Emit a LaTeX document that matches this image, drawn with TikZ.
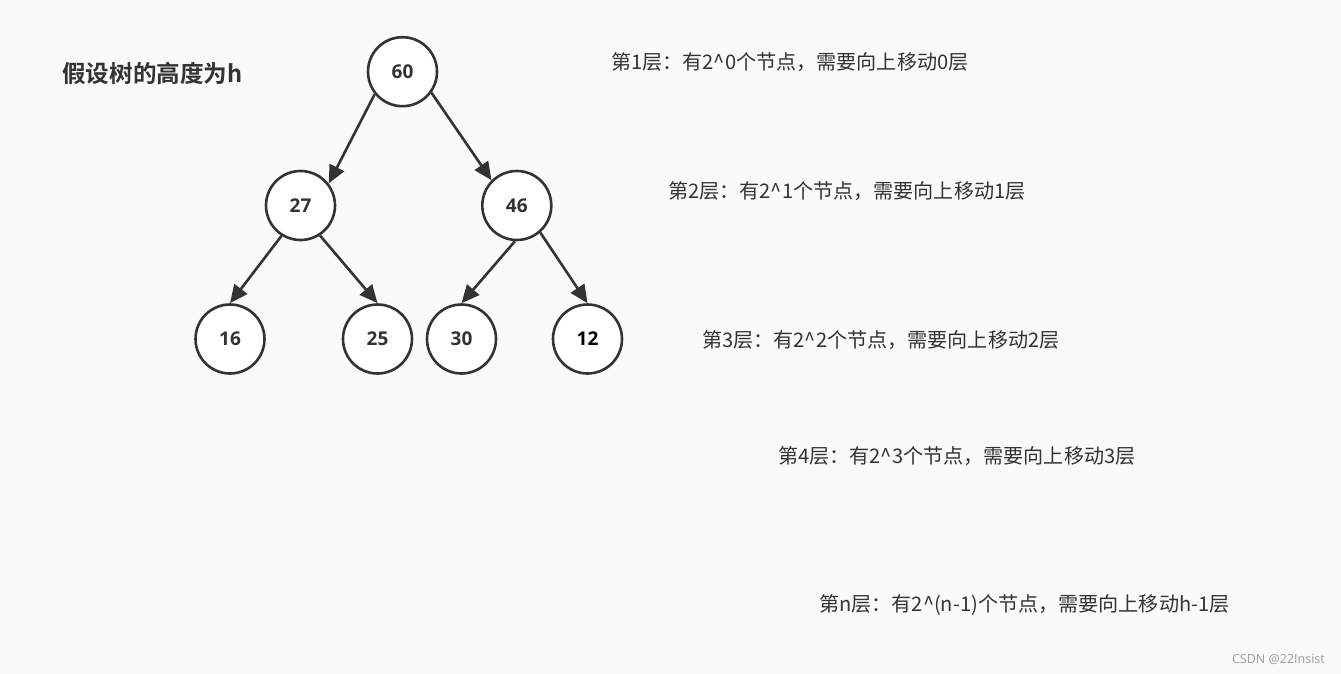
\documentclass[tikz,border=0pt]{standalone}
\usepackage{fontspec}
\setmainfont{Noto Sans CJK SC}[BoldFont={Noto Sans CJK SC Bold}]
\newfontfamily\numfont{Open Sans}[BoldFont={Open Sans Bold}]
\usetikzlibrary{arrows.meta}
\definecolor{bgc}{HTML}{FAFAFA}
\definecolor{ink}{HTML}{333333}
\begin{document}
\begin{tikzpicture}[x=1pt,y=-1pt,
  tnode/.style={circle,draw=ink,line width=2.6pt,fill=white,minimum size=69pt,inner sep=0pt,
    font=\numfont\bfseries\fontsize{19}{22}\selectfont,text=ink},
  edge/.style={draw=ink,line width=2.6pt,-{Triangle[length=18pt,width=16pt]}},
  levtext/.style={anchor=west,inner sep=0pt,text=ink,font=\fontsize{20.1}{24}\selectfont},
]
\fill[bgc] (0,0) rectangle (1341,674);
\useasboundingbox (0,0) rectangle (1341,674);

\node[anchor=west,inner sep=0pt,text=ink,font=\bfseries\fontsize{23.6}{28}\selectfont] (title) at (62,73) {假设树的高度为h};

\node[tnode] (n60) at (402.5,71.7) {60};
\node[tnode] (n27) at (300.5,205.5) {27};
\node[tnode] (n46) at (516.8,205.5) {46};
\node[tnode] (n16) at (230,339) {16};
\node[tnode] (n25) at (377.5,339) {25};
\node[tnode] (n30) at (461.5,339) {30};
\node[tnode,text=black] (n12) at (587.5,339) {12};

\draw[edge] (n60.219) -- (n27.38);
\draw[edge] (n60.-36) -- (n46.135);
\draw[edge] (n27.238) -- (n16.90);
\draw[edge] (n27.-57) -- (n25.90);
\draw[edge] (n46.267) -- (n30.90);
\draw[edge] (n46.-49) -- (n12.90);

\node[levtext] (l1) at (611,62) {第1层：有2\^{}0个节点，需要向上移动0层};
\node[levtext] (l2) at (668,191) {第2层：有2\^{}1个节点，需要向上移动1层};
\node[levtext] (l3) at (702,340) {第3层：有2\^{}2个节点，需要向上移动2层};
\node[levtext] (l4) at (778,456) {第4层：有2\^{}3个节点，需要向上移动3层};
\node[levtext] (ln) at (819,605) {第n层：有2\^{}(n-1)个节点，需要向上移动h-1层};

\node[anchor=east,inner sep=0pt,text=black!38,font=\numfont\fontsize{12.5}{15}\selectfont] (wm) at (1325,659) {CSDN @22Insist};
\end{tikzpicture}
\end{document}
